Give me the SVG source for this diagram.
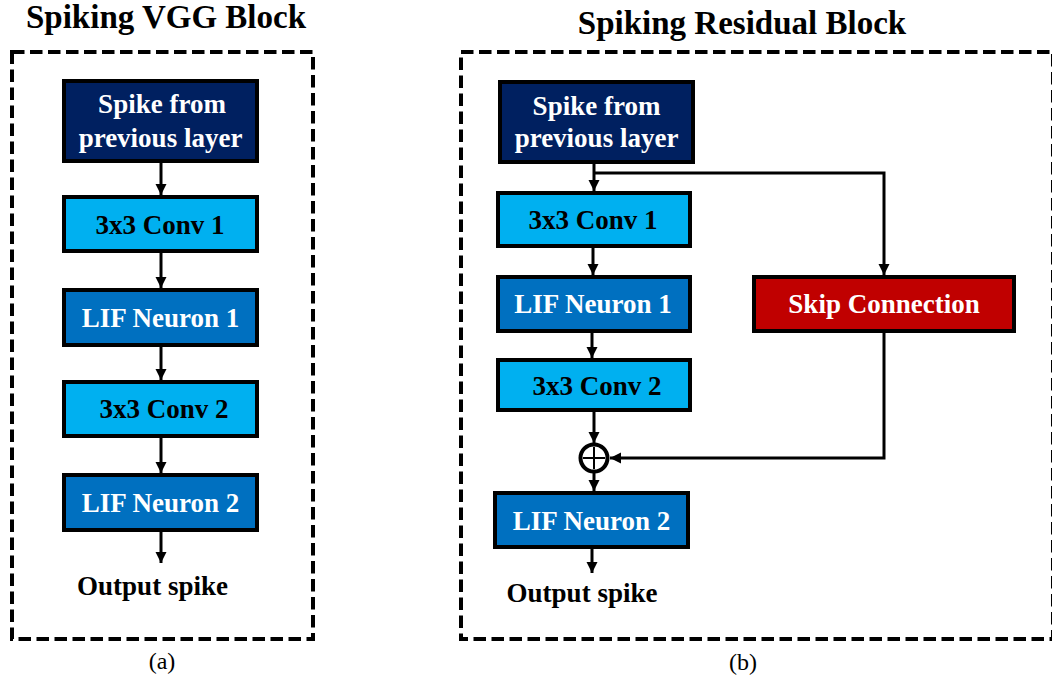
<svg xmlns="http://www.w3.org/2000/svg" width="1052" height="677" viewBox="0 0 1052 677">
<style>
text{font-family:"Liberation Serif","Times New Roman",serif;text-anchor:middle}
.t{font-weight:bold;font-size:33px;fill:#000}
.b{font-weight:bold;font-size:27px}
.w{fill:#fff}
.k{fill:#000}
.cap{font-size:24px;fill:#000}
.frame{fill:none;stroke:#000;stroke-width:4;stroke-dasharray:12.5 5.5}
.node{stroke:#000;stroke-width:4}
.navy{fill:#002060}
.lb{fill:#00b0f0}
.bl{fill:#0070c0}
.red{fill:#c00000}
.c{fill:none;stroke:#000;stroke-width:3}
</style>
<defs>
<marker id="ah" viewBox="0 0 10 10" refX="10" refY="5" markerWidth="11" markerHeight="12" markerUnits="userSpaceOnUse" orient="auto">
<path d="M0,0 L10,5 L0,10 Z" fill="#000"/>
</marker>
</defs>

<g id="titles">
<text class="t" x="166" y="28">Spiking VGG Block</text>
<text class="t" x="742" y="34">Spiking Residual Block</text>
</g>

<g id="frames">
<rect class="frame" x="12" y="52" width="301" height="587"/>
<rect class="frame" x="461" y="52" width="592" height="587"/>
</g>

<g id="connectors">
<line class="c" x1="161" y1="163" x2="161" y2="195" marker-end="url(#ah)"/>
<line class="c" x1="161" y1="253" x2="161" y2="288" marker-end="url(#ah)"/>
<line class="c" x1="161" y1="347" x2="161" y2="380" marker-end="url(#ah)"/>
<line class="c" x1="161" y1="438" x2="161" y2="473" marker-end="url(#ah)"/>
<line class="c" x1="161" y1="532" x2="161" y2="563" marker-end="url(#ah)"/>

<line class="c" x1="594" y1="164" x2="594" y2="191" marker-end="url(#ah)"/>
<path class="c" d="M594,173 H884 V275" marker-end="url(#ah)"/>
<line class="c" x1="593" y1="248" x2="593" y2="275" marker-end="url(#ah)"/>
<line class="c" x1="592" y1="333" x2="592" y2="358" marker-end="url(#ah)"/>
<line class="c" x1="594" y1="412" x2="594" y2="443" marker-end="url(#ah)"/>
<line class="c" x1="594" y1="473" x2="594" y2="491" marker-end="url(#ah)"/>
<line class="c" x1="592" y1="549" x2="592" y2="573" marker-end="url(#ah)"/>
<path class="c" d="M884,333 V458 H610" marker-end="url(#ah)"/>
</g>

<g id="a-input">
<rect class="node navy" x="64" y="81" width="193" height="80"/>
<text class="b w" x="162" y="113">Spike from</text>
<text class="b w" x="160.5" y="147">previous layer</text>
</g>
<g id="a-conv1">
<rect class="node lb" x="64" y="197" width="193" height="54"/>
<text class="b k" x="160" y="234">3x3 Conv 1</text>
</g>
<g id="a-lif1">
<rect class="node bl" x="64" y="290" width="193" height="55"/>
<text class="b w" x="160.5" y="327">LIF Neuron 1</text>
</g>
<g id="a-conv2">
<rect class="node lb" x="64" y="382" width="193" height="54"/>
<text class="b k" x="164" y="418">3x3 Conv 2</text>
</g>
<g id="a-lif2">
<rect class="node bl" x="64" y="475" width="193" height="55"/>
<text class="b w" x="160.5" y="512">LIF Neuron 2</text>
</g>
<g id="a-output">
<text class="b k" x="152.5" y="595">Output spike</text>
</g>

<g id="b-input">
<rect class="node navy" x="500" y="82" width="193" height="80"/>
<text class="b w" x="596.5" y="115">Spike from</text>
<text class="b w" x="596.5" y="147">previous layer</text>
</g>
<g id="b-conv1">
<rect class="node lb" x="498" y="193" width="192" height="53"/>
<text class="b k" x="593" y="229">3x3 Conv 1</text>
</g>
<g id="b-lif1">
<rect class="node bl" x="498" y="277" width="192" height="54"/>
<text class="b w" x="593" y="313">LIF Neuron 1</text>
</g>
<g id="b-conv2">
<rect class="node lb" x="498" y="360" width="192" height="50"/>
<text class="b k" x="597" y="395">3x3 Conv 2</text>
</g>
<g id="b-skip">
<rect class="node red" x="754" y="277" width="260" height="54"/>
<text class="b w" x="884" y="313">Skip Connection</text>
</g>
<g id="b-add">
<circle cx="594" cy="458" r="13.5" fill="#fff" stroke="#000" stroke-width="4"/>
<path d="M583,458 H605 M594,447 V469" stroke="#000" stroke-width="2" fill="none"/>
</g>
<g id="b-lif2">
<rect class="node bl" x="495" y="493" width="193" height="54"/>
<text class="b w" x="591.5" y="530">LIF Neuron 2</text>
</g>
<g id="b-output">
<text class="b k" x="582" y="602">Output spike</text>
</g>

<g id="captions">
<text class="cap" x="162" y="669">(a)</text>
<text class="cap" x="743" y="670">(b)</text>
</g>
</svg>
